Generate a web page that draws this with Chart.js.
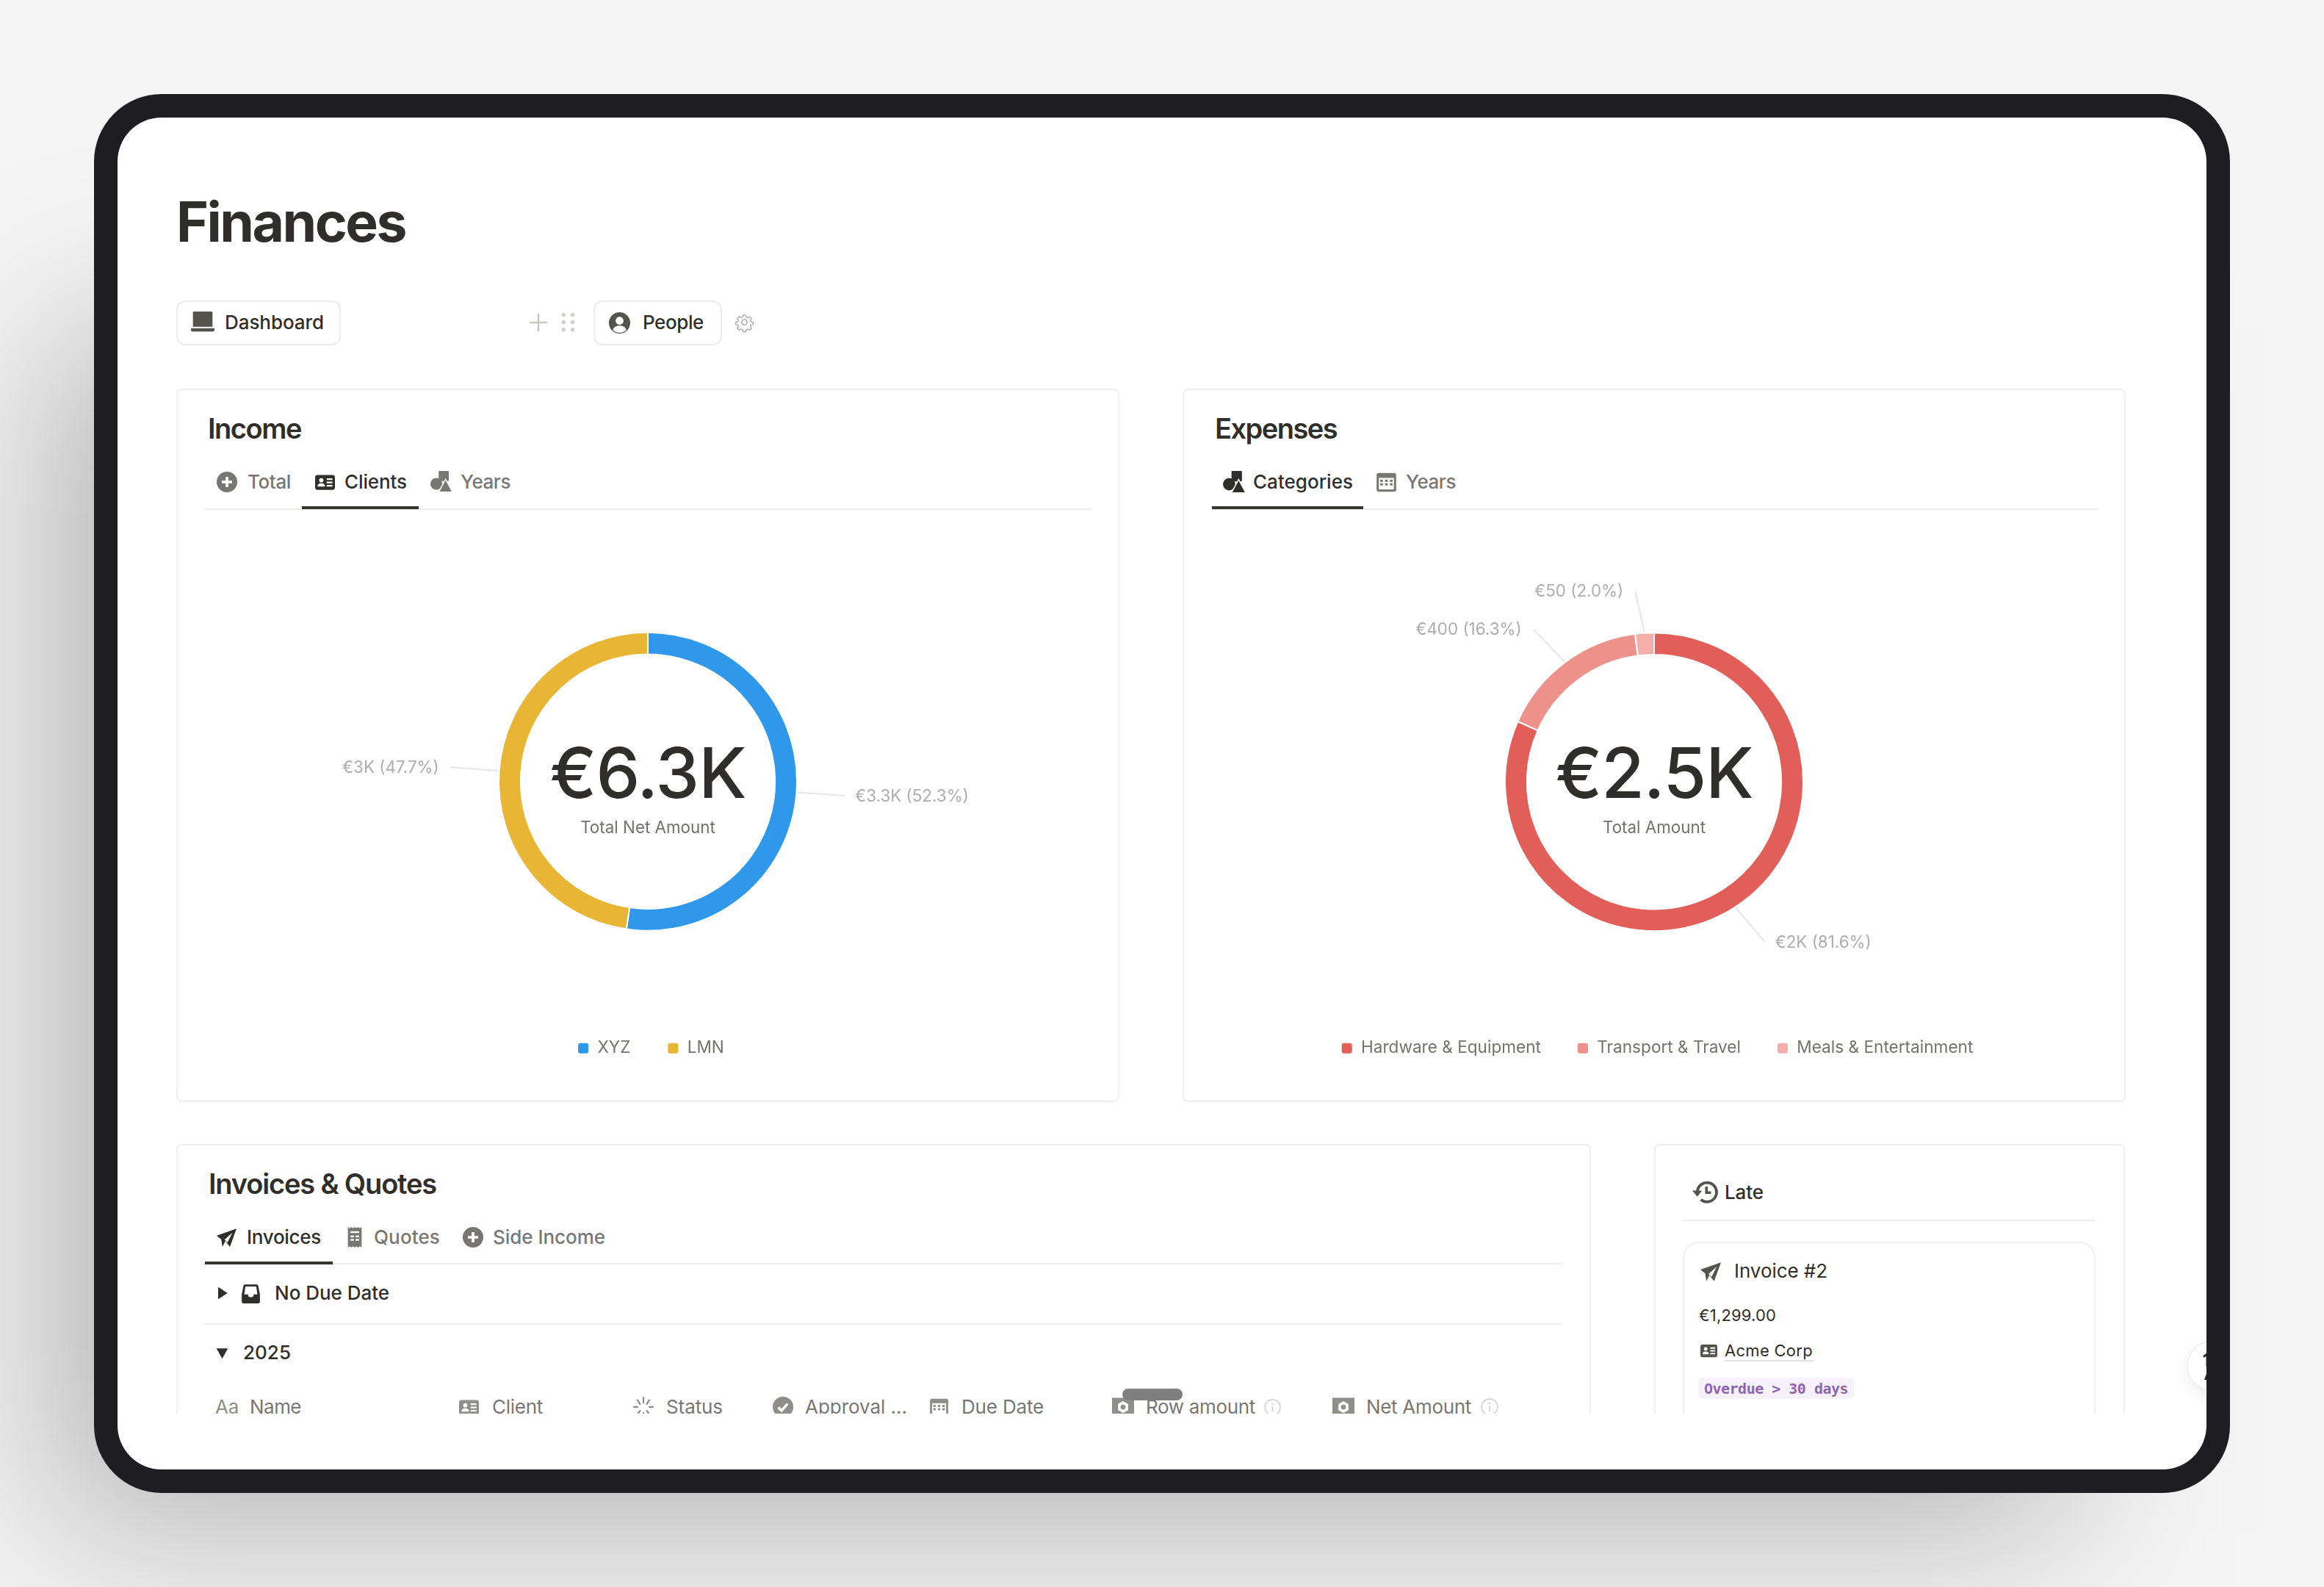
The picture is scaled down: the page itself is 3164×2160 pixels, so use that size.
<!DOCTYPE html>
<html><head><meta charset="utf-8">
<script src="https://cdn.jsdelivr.net/npm/chart.js@4/dist/chart.umd.min.js"></script>
<style>
html,body{margin:0;padding:0;width:3164px;height:2160px;overflow:hidden;background:#f5f5f5;font-family:Inter,sans-serif}
#bg{position:absolute;left:0;top:0;width:3164px;height:2160px;overflow:hidden;background:#f5f5f5}
#shadow{position:absolute;left:64px;top:450px;width:2756px;height:1635px;background:rgba(0,0,0,.26);filter:blur(120px)}
#frame{position:absolute;left:128px;top:128px;width:2908px;height:1904px;background:#1e1e22;border-radius:92px}
#inner{position:absolute;left:160px;top:160px;width:2844px;height:1840px;background:#fff;border-radius:60px;overflow:hidden}
#clip{position:absolute;left:0;top:0;width:2844px;height:1764px;overflow:hidden}
#stage{position:absolute;left:-160px;top:-160px;width:3164px;height:2160px}
.t{position:absolute;line-height:1;white-space:nowrap;transform:translateY(-50%)}
.b{position:absolute;box-sizing:border-box;background:#fff}
.l{position:absolute}
svg{position:absolute;overflow:visible}
canvas{position:absolute}
</style></head><body>
<div id="bg"><div id="shadow"></div><div id="frame"></div><div id="inner"><div id="clip"><div id="stage"></div></div></div></div>
<script>
// ---- data ----
const incomeCategories = ['XYZ', 'LMN'];
const incomeValues = [3300, 3010];
const incomeColors = ['#2f98ea', '#e8b535'];
const expenseCategories = ['Hardware & Equipment', 'Transport & Travel', 'Meals & Entertainment'];
const expenseValues = [2000, 400, 50];
const expenseColors = ['#e25e59', '#ed918b', '#f3aeaa'];
const incomeTabs = ['Total', 'Clients', 'Years'];
const expenseTabs = ['Categories', 'Years'];
const invoiceTabs = ['Invoices', 'Quotes', 'Side Income'];
const tableColumns = ['Name', 'Client', 'Status', 'Approval ...', 'Due Date', 'Row amount', 'Net Amount'];

const stage = document.getElementById('stage');
const INK = '#2f2e2b', GREY = '#787774', LINE = '#ededec';
function el(cls, css, html) { const d = document.createElement('div'); d.className = cls; d.style.cssText = css; if (html) d.innerHTML = html; stage.appendChild(d); return d; }
// text: left x, cap-centre y, size, weight, colour, optional right edge to fit
function T(s, x, y, size, weight, color, x2, fam) {
  const d = el('t', `left:${x}px;top:${y}px;font-size:${size}px;font-weight:${weight};color:${color};` + (fam ? `font-family:${fam};` : ''));
  d.textContent = s;
  if (x2) { const w = d.getBoundingClientRect().width; d.style.letterSpacing = ((x2 - x - w) / s.length) + 'px'; }
  return d;
}
function box(x, y, w, h, r, border, bg) { return el('b', `left:${x}px;top:${y}px;width:${w}px;height:${h}px;border-radius:${r}px;border:${border};background:${bg || '#fff'}`); }
function rule(x1, x2, y, h, c) { return el('l', `left:${x1}px;top:${y}px;width:${x2 - x1}px;height:${h}px;background:${c};`); }
function I(name, x1, x2, yc, color) {
  const w = x2 - x1; const ns = 'http://www.w3.org/2000/svg';
  const s = document.createElementNS(ns, 'svg');
  s.setAttribute('viewBox', '0 0 24 24'); s.setAttribute('width', w); s.setAttribute('height', w);
  s.style.left = x1 + 'px'; s.style.top = (yc - w / 2) + 'px'; s.style.color = color;
  s.innerHTML = ICONS[name]; stage.appendChild(s); return s;
}
const ICONS = {
  laptop: '<path fill="currentColor" d="M3 1.500h18a1 1 0 0 1 1 1V17H2V2.500a1 1 0 0 1 1-1z"/><path fill="currentColor" d="M0 18.500h24v1.500a2 2 0 0 1-2 2H2a2 2 0 0 1-2-2z"/>',
  plus: '<circle cx="12" cy="12" r="12" fill="currentColor"/><path d="M12 6v12M6 12h12" stroke="#fff" stroke-width="3.2"/>',
  card: '<rect x="0" y="3" width="24" height="18" rx="3" fill="currentColor"/><circle cx="7.5" cy="9.5" r="2.6" fill="#fff"/><path d="M3 17c0-3 2-4 4.5-4s4.5 1 4.5 4z" fill="#fff"/><path d="M14 8h7M14 12h7M14 16h7" stroke="#fff" stroke-width="2"/>',
  shapes: '<rect x="9" y="0" width="11" height="11" rx="1" fill="currentColor"/><circle cx="6.5" cy="14" r="6.5" fill="currentColor"/><path d="M16.5 9l7.5 14H9z" fill="currentColor" stroke="#fff" stroke-width="1.2"/>',
  calendar: '<rect x="1" y="1.5" width="22" height="21" rx="2.5" fill="currentColor"/><rect x="3.5" y="7" width="17" height="13" fill="#fff"/><g fill="currentColor"><rect x="5" y="9" width="3" height="2.5"/><rect x="10.5" y="9" width="3" height="2.5"/><rect x="16" y="9" width="3" height="2.5"/><rect x="5" y="13" width="3" height="2.5"/><rect x="10.5" y="13" width="3" height="2.5"/><rect x="16" y="13" width="3" height="2.5"/></g>',
  plane: '<path fill="currentColor" d="M24 1L16 23l-5.5-7L7 23l-1.5-9L0 9.5zM19 6l-9.5 8.5 3.5 3.5z"/>',
  receipt: '<path fill="currentColor" d="M4 0l2 1.5L8 0l2 1.5L12 0l2 1.5L16 0l2 1.5L20 0v24l-2-1.5L16 24l-2-1.5L12 24l-2-1.5L8 24l-2-1.5L4 24z"/><g fill="#fff"><rect x="7" y="5" width="10" height="2"/><rect x="7" y="10" width="4" height="2"/><rect x="13" y="10" width="4" height="2"/><rect x="7" y="14" width="4" height="2"/><rect x="13" y="14" width="4" height="2"/></g>',
  inbox: '<path fill="currentColor" d="M5 1h14a2 2 0 0 1 2 2l2 10v9a2 2 0 0 1-2 2H3a2 2 0 0 1-2-2v-9l2-10a2 2 0 0 1 2-2zM5.500 3.500L4 13h4.500a3.500 3.500 0 0 0 7 0H20L18.500 3.500z"/>',
  spinner: '<g stroke="currentColor" stroke-width="2" stroke-linecap="round"><path d="M12 1v6M5 4l3 4.500M19 4l-3 4.500M1 12h4M19 12h4M6 19l2-2.500M18 19l-2-2.500M12 19v4"/></g>',
  check: '<circle cx="12" cy="12" r="12" fill="currentColor"/><path d="M6.500 12.500l3.800 3.800 7-8" fill="none" stroke="#fff" stroke-width="3"/>',
  note: '<rect x="0" y="2" width="24" height="20" fill="currentColor"/><path d="M12 5.500l5.500 3.200v6.600L12 18.500l-5.500-3.200V8.700z" fill="#fff"/><circle cx="12" cy="12" r="2.700" fill="currentColor"/>',
  info: '<circle cx="12" cy="12" r="11" fill="none" stroke="currentColor" stroke-width="1.400"/><circle cx="12" cy="7" r="1.200" fill="currentColor"/><path d="M12 10.500V18" stroke="currentColor" stroke-width="1.600"/>',
  history: '<path d="M5 12a9.500 9.500 0 1 1 3.500 7.500" fill="none" stroke="currentColor" stroke-width="2.800"/><path d="M0 10.500h9.500L5 16.500z" fill="currentColor"/><path d="M14 6.500V12.500h4.500" fill="none" stroke="currentColor" stroke-width="2.600"/>',
  gear: '<path d="M10 1.500h4l.7 3 2.400 1 2.600-1.600 2.800 2.800-1.600 2.600 1 2.400 3 .7v3l-3 .7-1 2.400 1.600 2.600-2.800 2.800-2.600-1.600-2.400 1-.7 3h-4l-.7-3-2.400-1-2.600 1.600-2.800-2.800 1.600-2.600-1-2.400-3-.7v-3l3-.7 1-2.400L1.500 6.500l2.800-2.800 2.600 1.600 2.400-1z" transform="translate(1.400 1.400) scale(.88)" fill="none" stroke="currentColor" stroke-width="1.400"/><circle cx="12" cy="12" r="3.500" fill="none" stroke="currentColor" stroke-width="1.400"/>',
  user: '<circle cx="12" cy="12" r="12" fill="currentColor"/><circle cx="12" cy="9.500" r="4.500" fill="#fff"/><path d="M4.500 20c1-4 4-5 7.500-5s6.500 1 7.500 5c-2 2-4.500 3-7.500 3s-5.500-1-7.500-3z" fill="#fff"/>',
  grid: '<g fill="currentColor"><circle cx="6.500" cy="3" r="2.400"/><circle cx="17.500" cy="3" r="2.400"/><circle cx="6.500" cy="12" r="2.400"/><circle cx="17.500" cy="12" r="2.400"/><circle cx="6.500" cy="21" r="2.400"/><circle cx="17.500" cy="21" r="2.400"/></g>',
  thinplus: '<path d="M12 0v24M0 12h24" stroke="currentColor" stroke-width="2.400"/>',
  right: '<path d="M4 1l17 11L4 23z" fill="currentColor"/>',
  down: '<path d="M1 3l11 20L23 3z" fill="currentColor"/>',
  glyph: '<path fill="currentColor" d="M7.500 3l4.500-3h2v18h-2.500V4L8 6zM14 24v12H9l1-3c1-3 2-6 4-9z"/>'
};

// header
T('Finances', 240, 301, 75, 700, INK, 552);
box(240, 409, 224, 61, 12, '2px solid #ececeb');
box(808, 409, 175, 61, 12, '2px solid #ececeb');
I('laptop', 260, 292, 438, '#55534e'); T('Dashboard', 306, 439, 26, 500, INK, 441);
I('thinplus', 721, 745, 439, '#c7c6c3'); I('grid', 760, 787, 438, '#d0cfcc');
I('user', 829, 858, 439, '#55534e'); T('People', 875, 439, 26, 500, INK, 958);
I('gear', 1001, 1026, 438, '#a5a4a1');

// cards
box(240, 529, 1284, 971, 8, '2px solid #efefee');
box(1610, 529, 1284, 971, 8, '2px solid #efefee');
box(240, 1557, 1926, 500, 8, '2px solid #efefee');
box(2252, 1557, 641, 500, 8, '2px solid #efefee');

T('Income', 283, 583, 38, 600, INK, 410);
rule(279, 1486, 692, 2, LINE); rule(411, 570, 689, 4, '#37352f');
I('plus', 295, 323, 656, GREY); T(incomeTabs[0], 337, 656, 26, 500, GREY, 396);
I('card', 429, 456, 656, INK); T(incomeTabs[1], 469, 656, 26, 500, INK, 554);
I('shapes', 586, 616, 656, GREY); T(incomeTabs[2], 627, 656, 26, 500, GREY, 695);

T('Expenses', 1654, 583, 38, 600, INK, 1820);
rule(1650, 2856, 692, 2, LINE); rule(1650, 1856, 689, 4, '#37352f');
I('shapes', 1665, 1696, 656, INK); T(expenseTabs[0], 1706, 656, 26, 500, INK, 1842);
I('calendar', 1873, 1902, 656, GREY); T(expenseTabs[1], 1914, 656, 26, 500, GREY, 1982);

// invoices card
T('Invoices & Quotes', 284, 1611, 38, 600, INK, 594);
rule(279, 2127, 1719, 2, LINE); rule(279, 453, 1717, 4, '#37352f');
I('plane', 295, 322, 1684, INK); T(invoiceTabs[0], 336, 1684, 26, 500, INK, 437);
I('receipt', 469, 497, 1684, GREY); T(invoiceTabs[1], 509, 1684, 26, 500, GREY, 599);
I('plus', 630, 658, 1684, GREY); T(invoiceTabs[2], 671, 1684, 26, 500, GREY, 824);
I('right', 294, 312, 1760, INK); I('inbox', 328, 355, 1760, INK); T('No Due Date', 374, 1760, 26, 500, INK, 530);
rule(279, 2127, 1801, 2, LINE);
I('down', 294, 311, 1841, INK); T('2025', 331, 1841, 26, 500, INK, 396);
const hy = 1915;
T('Aa', 293, hy, 26, 400, '#8f8e8b', 325);
T(tableColumns[0], 340, hy, 26, 400, GREY, 410);
I('card', 625, 652, hy, '#8f8e8b'); T(tableColumns[1], 670, hy, 26, 400, GREY, 739);
I('spinner', 862, 890, hy, '#8f8e8b'); T(tableColumns[2], 907, hy, 26, 400, GREY, 984);
I('check', 1052, 1080, hy, '#8f8e8b'); T(tableColumns[3], 1096, hy, 26, 400, GREY, 1235);
I('calendar', 1265, 1292, hy, '#8f8e8b'); T(tableColumns[4], 1309, hy, 26, 400, GREY, 1421);
I('note', 1514, 1544, hy, '#8f8e8b'); T(tableColumns[5], 1560, hy, 26, 400, GREY, 1709);
I('info', 1721, 1744, hy, '#cfcecb');
I('note', 1814, 1844, hy, '#8f8e8b'); T(tableColumns[6], 1860, hy, 26, 400, GREY, 2003);
I('info', 2016, 2040, hy, '#cfcecb');
el('l', 'left:1528px;top:1890px;width:82px;height:16px;border-radius:8px;background:#7f7f7f;');

// late card
I('history', 2304, 2337, 1622, '#55534e'); T('Late', 2348, 1623, 26, 500, INK, 2401);
rule(2291, 2852, 1660, 2, LINE);
box(2291, 1690, 562, 300, 22, '2px solid #f1f1f0');
I('plane', 2315, 2343, 1731, '#55534e'); T('Invoice #2', 2361, 1730, 26, 400, INK, 2488);
T('€1,299.00', 2313, 1790, 22, 400, INK, 2418);
I('card', 2315, 2338, 1838, '#55534e'); T('Acme Corp', 2348, 1838, 22, 400, INK, 2468);
rule(2348, 2469, 1851, 2, '#e3e2e0');
el('l', 'left:2312px;top:1875px;width:212px;height:29px;border-radius:5px;background:#f6f1fb;');
T('Overdue > 30 days', 2320, 1890, 20, 700, '#9065b0', 2516, '"DejaVu Sans Mono",monospace');

// floating round button, cut off by the frame
el('l', 'box-sizing:border-box;left:2977px;top:1825px;width:68px;height:68px;border-radius:50%;background:#fff;border:2px solid #f0f0ef;box-shadow:0 8px 22px rgba(0,0,0,.07);');
I('glyph', 2992, 3016, 1854, '#2f2e2b');

// ---- charts ----
function money(v) {
  if (v >= 1000) { const k = v / 1000; return '€' + (Math.abs(k - Math.round(k)) < 0.05 ? Math.round(k) : k.toFixed(1)) + 'K'; }
  return '€' + v;
}
const ringLabels = {
  id: 'ringLabels',
  afterLayout(chart, args, o) {
    chart.legend.left += o.legendDx; chart.legend.right += o.legendDx;
    chart.legend.top += o.legendDy; chart.legend.bottom += o.legendDy;
  },
  afterDatasetsDraw(chart, args, o) {
    const { ctx } = chart; const meta = chart.getDatasetMeta(0);
    const data = chart.data.datasets[0].data;
    const total = data.reduce((a, b) => a + b, 0);
    ctx.save();
    meta.data.forEach((arc, i) => {
      const p = arc.getProps(['x', 'y', 'startAngle', 'endAngle', 'outerRadius']);
      const mid = (p.startAngle + p.endAngle) / 2;
      const endA = mid + (o.shift[i] || 0) * Math.PI / 180;
      const r1 = p.outerRadius + 1, r2 = p.outerRadius + o.leader[i];
      const x1 = p.x + Math.cos(mid) * r1, y1 = p.y + Math.sin(mid) * r1;
      const x2 = p.x + Math.cos(endA) * r2, y2 = p.y + Math.sin(endA) * r2;
      ctx.strokeStyle = '#e6e6e5'; ctx.lineWidth = 2;
      ctx.beginPath(); ctx.moveTo(x1, y1); ctx.lineTo(x2, y2); ctx.stroke();
      const right = Math.cos(endA) > 0;
      ctx.font = '400 22.4px Inter'; ctx.fillStyle = '#adadab'; ctx.textBaseline = 'middle';
      ctx.textAlign = right ? 'left' : 'right';
      ctx.fillText(money(data[i]) + ' (' + (data[i] / total * 100).toFixed(1) + '%)', x2 + (right ? 14 : -16), y2 + 1);
    });
    const c = meta.data[0].getProps(['x', 'y']);
    ctx.textAlign = 'center';
    ctx.fillStyle = INK; ctx.font = '450 95px Inter'; ctx.textBaseline = 'alphabetic';
    ctx.letterSpacing = '-1px';
    ctx.fillText(money(total), c.x, c.y + 22);
    ctx.letterSpacing = '0px';
    ctx.fillStyle = '#73726e'; ctx.font = '400 22.4px Inter';
    ctx.fillText(o.centre, c.x, c.y + 70);
    ctx.restore();
  }
};
function ring(left, labels, values, colors, centre, legendPad, shift, leader) {
  const cv = document.createElement('canvas');
  cv.width = 1284; cv.height = 682;
  cv.style.cssText = `left:${left}px;top:764px;width:1284px;height:682px;`;
  stage.appendChild(cv);
  return new Chart(cv, {
    type: 'doughnut',
    data: { labels, datasets: [{ data: values, backgroundColor: colors, borderColor: '#fff', borderWidth: 2 }] },
    plugins: [ringLabels],
    options: {
      responsive: false, animation: false, devicePixelRatio: 1,
      radius: 203, cutout: '85.3%',
      layout: { padding: 0 },
      plugins: {
        tooltip: { enabled: false },
        ringLabels: { centre, leader, shift, legendDx: 4, legendDy: 2 },
        legend: { position: 'bottom', align: 'center', labels: {
          boxWidth: 16, boxHeight: 16, useBorderRadius: true, borderRadius: 4, padding: legendPad,
          color: '#73726e', font: { family: 'Inter', size: 22.6, weight: '400' } } }
      }
    }
  });
}
ring(240, incomeCategories, incomeValues, incomeColors, 'Total Net Amount', 50, [0, 0], [66, 66]);
ring(1610, expenseCategories, expenseValues, expenseColors, 'Total Amount', 49, [-1.6, -1.6, -2], [62, 62, 58]);
</script>
</body></html>
